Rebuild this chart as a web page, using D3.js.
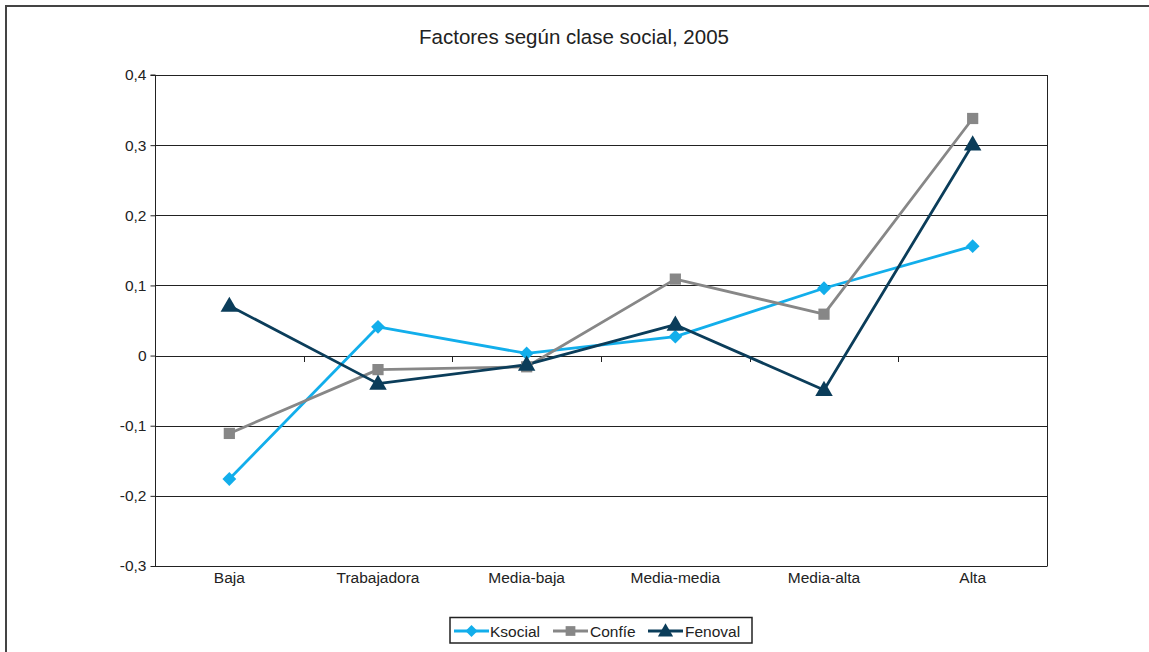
<!DOCTYPE html>
<html><head><meta charset="utf-8">
<script src="https://cdn.jsdelivr.net/npm/d3@7"></script>
<style>body{margin:0;background:#fff;}svg{display:block;font-family:"Liberation Sans",Arial,sans-serif;}</style>
</head><body><svg id="c" width="1149" height="652"></svg>
<script>
const categories = ["Baja","Trabajadora","Media-baja","Media-media","Media-alta","Alta"];
const ksocial = [-0.176, 0.041, 0.003, 0.027, 0.096, 0.156];
const confie  = [-0.111, -0.020, -0.016, 0.109, 0.059, 0.338];
const fenoval = [0.071, -0.040, -0.013, 0.044, -0.049, 0.301];
const yTicks = [-0.3,-0.2,-0.1,0,0.1,0.2,0.3,0.4];
const seriesNames = ["Ksocial","Confíe","Fenoval"];
const seriesData = [ksocial, confie, fenoval];
const seriesColors = ["#12AEEB","#878787","#0B3D5A"];

const svg = d3.select("#c");
const L=155, R=1047, T=75, B=566;
svg.append("rect").attr("x",6).attr("y",6).attr("width",1160).attr("height",660)
  .attr("fill","none").attr("stroke","#444").attr("stroke-width",2);

svg.append("text").attr("x",574).attr("y",44).attr("text-anchor","middle")
  .attr("font-size",20.5).attr("fill","#222").text("Factores según clase social, 2005");

const x = d3.scaleBand().domain(categories).range([L,R]);
const y = d3.scaleLinear().domain([-0.3,0.4]).range([B,T]);

svg.append("g").selectAll("line").data(yTicks).join("line")
  .attr("x1",L).attr("x2",R).attr("y1",d=>Math.round(y(d))+0.5).attr("y2",d=>Math.round(y(d))+0.5)
  .attr("stroke","#222").attr("stroke-width",1);
svg.append("line").attr("x1",R+0.5).attr("x2",R+0.5).attr("y1",T).attr("y2",B+0.5).attr("stroke","#222");

const fmt = d => Math.abs(d)<1e-9 ? "0" : d3.format(".1f")(d).replace(".",",").replace("−","-");
const yAxis = d3.axisLeft(y).tickValues(yTicks).tickFormat(fmt).tickSize(5).tickPadding(4);
const gy = svg.append("g").attr("transform",`translate(${L+0.5},0)`).call(yAxis);
gy.selectAll("text").attr("font-size",15.5).attr("fill","#222").attr("font-family","Liberation Sans, Arial, sans-serif");
gy.selectAll("line,path").attr("stroke","#222");
gy.select(".domain").attr("d",`M-5,${T}H0V${B+0.5}`);

const bounds = d3.range(categories.length+1).map(i=>L+i*x.bandwidth());
svg.append("g").selectAll("line").data(bounds).join("line")
  .attr("x1",d=>Math.round(d)+0.5).attr("x2",d=>Math.round(d)+0.5)
  .attr("y1",Math.round(y(0))).attr("y2",Math.round(y(0))+6).attr("stroke","#222");
svg.append("g").selectAll("text").data(categories).join("text")
  .attr("x",d=>x(d)+x.bandwidth()/2).attr("y",583).attr("text-anchor","middle")
  .attr("font-size",15.5).attr("fill","#222").text(d=>d);

function marker(g, k, cx, cy, s) {
  if (k===0) {
    g.append("path").attr("transform",`translate(${cx},${cy}) rotate(45)`)
      .attr("d",d3.symbol(d3.symbolSquare, s*s*0.72)()).attr("fill",seriesColors[k]);
  } else if (k===1) {
    g.append("path").attr("transform",`translate(${cx},${cy})`)
      .attr("d",d3.symbol(d3.symbolSquare, s*s*0.95)()).attr("fill",seriesColors[k]);
  } else {
    g.append("path").attr("transform",`translate(${cx},${cy+1})`)
      .attr("d",d3.symbol(d3.symbolTriangle, s*s*1.0)()).attr("fill",seriesColors[k]);
  }
}

const line = d3.line().x((d,i)=>x(categories[i])+x.bandwidth()/2).y(d=>y(d));
seriesData.forEach((s,k)=>{
  svg.append("path").datum(s).attr("d",line).attr("fill","none")
    .attr("stroke",seriesColors[k]).attr("stroke-width",2.8).attr("stroke-linejoin","round");
});
const mg = svg.append("g");
seriesData.forEach((s,k)=>{
  s.forEach((d,i)=> marker(mg, k, x(categories[i])+x.bandwidth()/2, y(d), 11.5));
});

const lg = svg.append("g");
lg.append("rect").attr("x",450).attr("y",617.5).attr("width",302).attr("height",25.5)
  .attr("fill","#fff").attr("stroke","#222").attr("stroke-width",1.5);
const lx = [454,553,648];
const tx = [490,590,685];
seriesNames.forEach((n,k)=>{
  lg.append("line").attr("x1",lx[k]).attr("x2",lx[k]+35).attr("y1",631).attr("y2",631)
    .attr("stroke",seriesColors[k]).attr("stroke-width",2.8);
  marker(lg, k, lx[k]+17.5, 631, 10);
  lg.append("text").attr("x",tx[k]).attr("y",636.5).attr("font-size",15.5).attr("fill","#222").text(n);
});
</script></body></html>
